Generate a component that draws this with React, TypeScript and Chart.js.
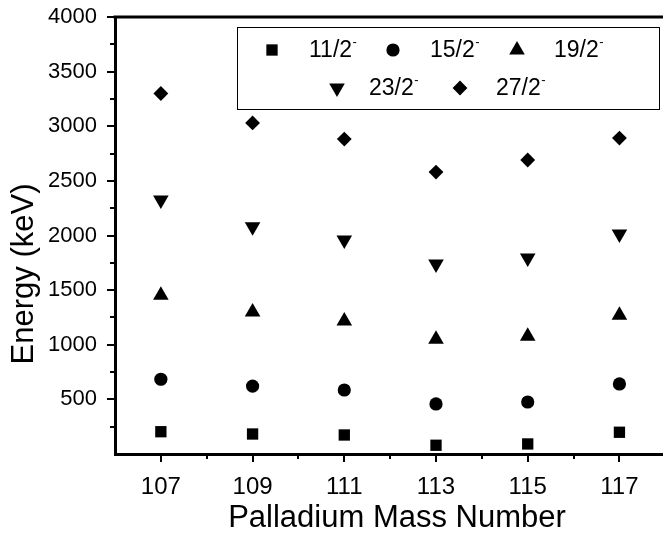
import React, { useEffect, useRef } from "react";
import { Chart, registerables } from "chart.js";

Chart.register(...registerables);

const massNumbers = [107, 109, 111, 113, 115, 117];
const energy11 = [204, 183, 174, 80, 92, 199];
const energy15 = [684, 622, 586, 458, 476, 641];
const energy19 = [1453, 1300, 1217, 1050, 1077, 1270];
const energy23 = [2325, 2081, 1959, 1739, 1794, 2014];
const energy27 = [3300, 3030, 2883, 2581, 2691, 2892];
const seriesLabels = ["11/2⁻", "15/2⁻", "19/2⁻", "23/2⁻", "27/2⁻"];
const xTicks = [107, 109, 111, 113, 115, 117];
const xMinorTicks = [108, 110, 112, 114, 116];
const yTicks = [500, 1000, 1500, 2000, 2500, 3000, 3500, 4000];
const yMinorTicks = [250, 750, 1250, 1750, 2250, 2750, 3250, 3750];
const xTitle = "Palladium Mass Number";
const yTitle = "Energy (keV)";

const FONT = "'Liberation Sans', Arial, Helvetica, sans-serif";
const STYLES = ["rect", "circle", "triangle", "triangleDown", "rectRot"];
const RADII = [8, 6.6, 9, 9, 7.4];

function drawMarker(ctx: CanvasRenderingContext2D, style: string, x: number, y: number, r: number) {
  ctx.beginPath();
  if (style === "rect") {
    const s = Math.SQRT1_2 * r;
    ctx.rect(x - s, y - s, 2 * s, 2 * s);
  } else if (style === "circle") {
    ctx.arc(x, y, r, 0, Math.PI * 2);
  } else if (style === "triangle" || style === "triangleDown") {
    const d = style === "triangle" ? 1 : -1;
    const w = Math.sin(Math.PI / 3) * r;
    ctx.moveTo(x, y - d * r);
    ctx.lineTo(x + w, y + d * r / 2);
    ctx.lineTo(x - w, y + d * r / 2);
    ctx.closePath();
  } else {
    ctx.moveTo(x - r, y);
    ctx.lineTo(x, y - r);
    ctx.lineTo(x + r, y);
    ctx.lineTo(x, y + r);
    ctx.closePath();
  }
  ctx.fill();
}

const framePlugin = {
  id: "frameAndLegend",
  afterDraw(chart: any) {
    const { ctx, chartArea: a, scales } = chart;
    const xs = scales.x;
    const ys = scales.y;
    ctx.save();
    ctx.strokeStyle = "#000";
    ctx.fillStyle = "#000";
    // top spine
    ctx.lineWidth = 3;
    ctx.beginPath();
    ctx.moveTo(a.left - 1.5, a.top);
    ctx.lineTo(a.right, a.top);
    ctx.stroke();
    // minor ticks
    ctx.lineWidth = 2;
    yMinorTicks.forEach((v) => {
      const py = Math.round(ys.getPixelForValue(v));
      ctx.beginPath();
      ctx.moveTo(a.left - 5, py);
      ctx.lineTo(a.left, py);
      ctx.stroke();
    });
    xMinorTicks.forEach((v) => {
      const px = Math.round(xs.getPixelForValue(v));
      ctx.beginPath();
      ctx.moveTo(px, a.bottom);
      ctx.lineTo(px, a.bottom + 5);
      ctx.stroke();
    });
    // axis titles
    ctx.font = `31px ${FONT}`;
    ctx.textAlign = "center";
    ctx.textBaseline = "alphabetic";
    ctx.fillText(xTitle, 397, 527);
    ctx.save();
    ctx.translate(33, 274);
    ctx.rotate(-Math.PI / 2);
    ctx.fillText(yTitle, 0, 0);
    ctx.restore();
    // legend box
    ctx.lineWidth = 1;
    ctx.strokeRect(237.5, 27.5, 422, 82);
    const items = [
      { i: 0, mx: 272, tx: 309, row: 0 },
      { i: 1, mx: 393, tx: 430, row: 0 },
      { i: 2, mx: 517, tx: 554, row: 0 },
      { i: 3, mx: 337, tx: 369, row: 1 },
      { i: 4, mx: 460, tx: 496, row: 1 },
    ];
    const rowY = [50, 88];
    items.forEach((it) => {
      const cy = rowY[it.row];
      drawMarker(ctx, STYLES[it.i], it.mx, cy, RADII[it.i]);
      const label = seriesLabels[it.i];
      const main = label.replace("⁻", "");
      ctx.font = `23px ${FONT}`;
      ctx.textAlign = "left";
      ctx.textBaseline = "middle";
      ctx.fillText(main, it.tx, cy + 1);
      const w = ctx.measureText(main).width;
      ctx.font = `13px ${FONT}`;
      ctx.fillText("-", it.tx + w + 0.5, cy - 8);
    });
    ctx.restore();
  },
};

export default function App() {
  const ref = useRef<HTMLCanvasElement | null>(null);
  useEffect(() => {
    if (!ref.current) return;
    const seriesValues = [energy11, energy15, energy19, energy23, energy27];
    const datasets = seriesValues.map((vals, i) => ({
      label: seriesLabels[i],
      data: massNumbers.map((m, j) => ({ x: m, y: vals[j] })),
      pointStyle: STYLES[i] === "triangleDown" ? "triangle" : STYLES[i],
      rotation: STYLES[i] === "triangleDown" ? 180 : 0,
      pointRadius: RADII[i],
      pointHoverRadius: RADII[i],
      backgroundColor: "#000",
      borderColor: "#000",
      pointBorderWidth: 0,
      borderWidth: 0,
      showLine: false,
    }));
    const chart = new Chart(ref.current, {
      type: "scatter",
      data: { datasets: datasets as any },
      options: {
        responsive: false,
        animation: false,
        layout: { autoPadding: false, padding: { top: 17, right: 0, left: 0, bottom: 0 } },
        plugins: { legend: { display: false }, tooltip: { enabled: false } },
        scales: {
          x: {
            type: "linear",
            min: 106,
            max: 117.95,
            afterBuildTicks: (s: any) => {
              s.ticks = xTicks.map((v) => ({ value: v }));
            },
            afterFit: (s: any) => {
              s.height = 79;
              s.paddingLeft = 0;
              s.paddingRight = 0;
            },
            ticks: {
              autoSkip: false,
              maxRotation: 0,
              color: "#000",
              padding: 11,
              font: { family: FONT, size: 24 },
              callback: (v: any) => String(v),
            },
            grid: { display: true, drawOnChartArea: false, drawTicks: true, tickLength: 8, lineWidth: 2, color: "#000" },
            border: { display: true, width: 3, color: "#000" },
          },
          y: {
            type: "linear",
            min: 0,
            max: 4000,
            afterBuildTicks: (s: any) => {
              s.ticks = yTicks.map((v) => ({ value: v }));
            },
            afterFit: (s: any) => {
              s.width = 115;
              s.paddingTop = 0;
              s.paddingBottom = 0;
            },
            ticks: {
              autoSkip: false,
              color: "#000",
              padding: 10,
              font: { family: FONT, size: 22 },
              callback: (v: any) => String(v),
            },
            grid: { display: true, drawOnChartArea: false, drawTicks: true, tickLength: 8, lineWidth: 2, color: "#000" },
            border: { display: true, width: 3, color: "#000" },
          },
        },
      },
      plugins: [framePlugin],
    } as any);
    return () => chart.destroy();
  }, []);
  return (
    <div style={{ position: "absolute", left: 0, top: 0, width: 663, height: 533, background: "#fff" }}>
      <canvas ref={ref} width={663} height={533} style={{ display: "block" }} />
    </div>
  );
}
